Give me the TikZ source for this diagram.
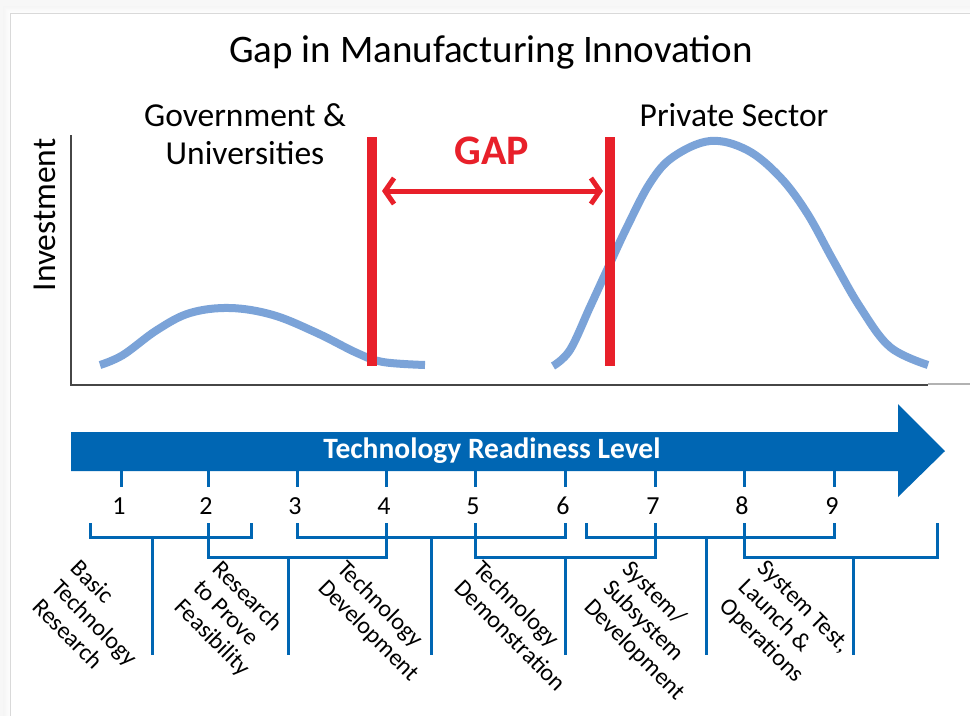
\documentclass[tikz,border=0pt]{standalone}
\usepackage{fontspec}
\setmainfont{Carlito}
\usetikzlibrary{arrows.meta}
\definecolor{trlblue}{RGB}{0,102,179}
\definecolor{curveblue}{RGB}{123,163,216}
\definecolor{gapred}{RGB}{232,32,42}
\definecolor{axisgray}{RGB}{70,70,70}

\begin{document}
\begin{tikzpicture}[x=1pt,y=-1pt,
    curve/.style={curveblue,line width=8pt},
    gapline/.style={gapred,line width=10pt},
    bracket/.style={trlblue,line width=3pt},
    label/.style={inner sep=0pt,align=center,font=\fontsize{33.5}{38}\selectfont},
    num/.style={inner sep=0pt,font=\fontsize{26}{26}\selectfont},
    phase/.style={rotate=-45,anchor=north west,align=left,inner sep=0pt,font=\fontsize{24}{27}\selectfont}]
    \useasboundingbox (0,0) rectangle (970,716);
    % panel with soft shadow
    \fill[gray!6] (0,0) rectangle (970,716);
    \foreach \i in {8,...,1}
      \fill[gray!\i!white] (11-\i,14-\i) rectangle (970,716);
    \fill[gray!30] (10,13) rectangle (970,716);
    \fill[white] (11,14) rectangle (970,716);
    % titles
    \node[label,font=\fontsize{39}{44}\selectfont] (title) at (491,52) {Gap in Manufacturing Innovation};
    \node[label] (gov) at (245,134) {Government \&\\Universities};
    \node[label] (priv) at (734,115) {Private Sector};
    \node[label,rotate=90] (invest) at (45,215) {Investment};
    % axes
    \draw[axisgray,line width=2.5pt] (71,135) -- (71,385) -- (928,385);
    \draw[gray!60,line width=2pt] (928,384) -- (970,384);
    % investment curves
    \draw[curve] plot[smooth,tension=0.6] coordinates {(100,365) (123,355) (157,330) (190,313) (230,308) (273,315) (317,333) (357,353) (383,362) (425,365)};
    \draw[curve] plot[smooth,tension=0.6] coordinates {(553,366) (570,350) (590,307) (607,270) (627,227) (650,183) (673,157) (710,141) (747,150) (780,177) (807,213) (833,260) (860,307) (890,347) (928,365)};
    % gap
    \draw[gapline] (372,137) -- (372,366);
    \draw[gapline] (610,137) -- (610,366);
    \node[label,gapred,font=\fontsize{42}{42}\bfseries] (gap) at (492,151) {GAP};
    \draw[gapred,line width=5pt,{Straight Barb[length=9pt,width=26pt]}-{Straight Barb[length=9pt,width=26pt]}] (382,191) -- (603,191);
    % readiness arrow
    \fill[trlblue] (71,432) -- (898,432) -- (898,404) -- (945,451) -- (898,497) -- (898,471) -- (71,471) -- cycle;
    \node[label,white,font=\fontsize{29.5}{30}\bfseries] (trl) at (492,451) {Technology Readiness Level};
    \foreach \n/\x in {1/121,2/208,3/297,4/386,5/475,6/565,7/655,8/744,9/834} {
      \draw[bracket] (\x,471) -- (\x,487);
      \node[num] (n\n) at (\x-2,506) {\n};
    }
    % phase brackets
    \draw[bracket] (90,523) -- (90,537) -- (251,537) -- (251,523);
    \draw[bracket] (152,537) -- (152,655);
    \draw[bracket] (208,523) -- (208,557) -- (386,557) -- (386,523);
    \draw[bracket] (288,557) -- (288,655);
    \draw[bracket] (297,523) -- (297,537) -- (565,537) -- (565,523);
    \draw[bracket] (431,537) -- (431,655);
    \draw[bracket] (475,523) -- (475,557) -- (655,557) -- (655,523);
    \draw[bracket] (565,557) -- (565,655);
    \draw[bracket] (586,523) -- (586,537) -- (834,537) -- (834,523);
    \draw[bracket] (706,537) -- (706,655);
    \draw[bracket] (744,523) -- (744,557) -- (937,557) -- (937,523);
    \draw[bracket] (853,557) -- (853,655);
    % phase names
    \node[phase] (ph1) at (81,558) {Basic\\Technology\\Research};
    \node[phase] (ph2) at (223,558) {Research\\to Prove\\Feasibility};
    \node[phase] (ph3) at (348,558) {Technology\\Development};
    \node[phase] (ph4) at (484,558) {Technology\\Demonstration};
    \node[phase] (ph5) at (633,558) {System/\\Subsystem\\Development};
    \node[phase] (ph6) at (768,558) {System Test,\\Launch \&\\Operations};
\end{tikzpicture}
\end{document}
